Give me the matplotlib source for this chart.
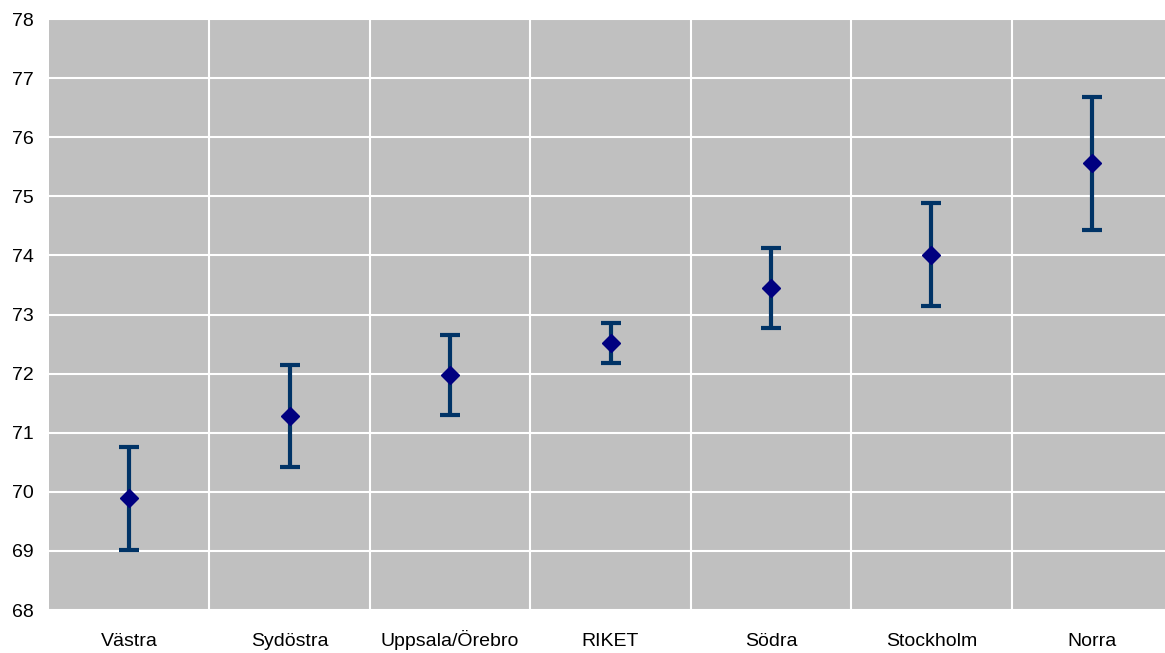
import matplotlib.pyplot as plt
import numpy as np

regions = ['Västra', 'Sydöstra', 'Uppsala/Örebro', 'RIKET', 'Södra', 'Stockholm', 'Norra']
mean = [69.90, 71.28, 71.97, 72.52, 73.44, 74.01, 75.56]
upper = [70.76, 72.14, 72.65, 72.86, 74.12, 74.89, 76.68]
lower = [69.02, 70.42, 71.30, 72.18, 72.78, 73.14, 74.43]

plt.rcParams['font.family'] = ['Liberation Sans', 'DejaVu Sans']

fig = plt.figure(figsize=(11.65, 6.53), dpi=100)
W, H = 1165, 653
ax = fig.add_axes([49 / W, 1 - 610 / H, 1123 / W, 591 / H])
ax.set_facecolor('#c0c0c0')

x = np.arange(len(regions))
m = np.array(mean)
yerr = [m - np.array(lower), np.array(upper) - m]
ax.errorbar(x, m, yerr=yerr, fmt='none', ecolor='#003366', elinewidth=3,
            capsize=7, capthick=3, zorder=3)
ax.plot(x, m, 'D', color='#000080', markersize=9, zorder=4)

ax.set_xlim(-0.5, len(regions) - 0.5)
ax.set_ylim(68, 78)
ax.set_yticks(range(68, 79))
ax.set_xticks(x)
ax.set_xticklabels(regions)
ax.set_xticks(np.arange(0.5, len(regions) - 0.5), minor=True)
ax.grid(True, which='major', axis='y', color='white', linewidth=1.5)
ax.grid(True, which='minor', axis='x', color='white', linewidth=1.5)
ax.grid(False, which='major', axis='x')
ax.set_axisbelow(True)
ax.tick_params(axis='both', which='both', length=0, labelsize=14)
ax.tick_params(axis='x', pad=26)
ax.tick_params(axis='y', pad=11)
for lab in ax.get_xticklabels():
    lab.set_verticalalignment('baseline')
for s in ax.spines.values():
    s.set_visible(False)

fig.savefig('out.png', dpi=100)
